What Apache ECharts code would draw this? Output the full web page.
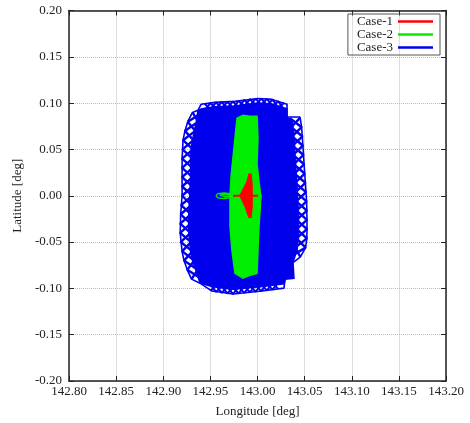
<!DOCTYPE html>
<html><head><meta charset="utf-8">
<script src="https://cdn.jsdelivr.net/npm/echarts@6/dist/echarts.min.js"></script>
<style>html,body{margin:0;padding:0;background:#fff}#c{width:470px;height:423px}</style>
</head><body><div id="c"></div>
<script>
// ---- Data (lon, lat in degrees) ----
const xTicks = [142.80,142.85,142.90,142.95,143.00,143.05,143.10,143.15,143.20];
const yTicks = [-0.20,-0.15,-0.10,-0.05,0.00,0.05,0.10,0.15,0.20];
const seriesNames = ['Case-1','Case-2','Case-3'];

// Case-3: dense core
const case3Core = [[142.9369,0.0923],[142.941,0.094],[142.955,0.096],[142.976,0.097],[143.0005,0.100],[143.0154,0.099],[143.0313,0.094],[143.0313,0.0850],[143.037,0.080],[143.039,0.060],[143.040,0.040],[143.042,0.010],[143.0435,-0.020],[143.0435,-0.045],[143.042,-0.058],[143.0377,-0.0721],[143.0387,-0.0891],[143.0292,-0.0902],[143.0281,-0.0950],[143.0048,-0.098],[142.974,-0.101],[142.9517,-0.098],[142.9390,-0.0944],[142.9345,-0.080],[142.931,-0.070],[142.929,-0.060],[142.927,-0.040],[142.927,-0.020],[142.928,0.000],[142.929,0.020],[142.929,0.040],[142.9295,0.050],[142.931,0.060],[142.933,0.070],[142.935,0.080]];
// Case-3: loops on the west edge
const case3WestA = [[142.931,0.090],[142.937,0.080],[142.923,0.070],[142.932,0.060],[142.9205,0.050],[142.931,0.040],[142.920,0.030],[142.931,0.020],[142.920,0.010],[142.931,0.000],[142.919,-0.010],[142.9295,-0.020],[142.918,-0.030],[142.929,-0.040],[142.9185,-0.050],[142.931,-0.060],[142.922,-0.070],[142.9365,-0.080],[142.930,-0.090]];
const case3WestB = [[142.942,0.090],[142.926,0.080],[142.934,0.070],[142.921,0.060],[142.9315,0.050],[142.920,0.040],[142.931,0.030],[142.920,0.020],[142.931,0.010],[142.920,0.000],[142.930,-0.010],[142.9185,-0.020],[142.929,-0.030],[142.918,-0.040],[142.9295,-0.050],[142.920,-0.060],[142.933,-0.070],[142.9255,-0.080],[142.941,-0.090]];
const case3WestEdge = [[142.9369,0.0923],[142.931,0.090],[142.926,0.080],[142.923,0.070],[142.921,0.060],[142.920,0.040],[142.920,0.000],[142.9185,-0.020],[142.918,-0.040],[142.920,-0.060],[142.922,-0.070],[142.9255,-0.080],[142.930,-0.090],[142.9390,-0.0944]];
// Case-3: loops on the east edge
const case3EastA = [[143.0451,0.084],[143.0358,0.074],[143.0478,0.064],[143.0372,0.054],[143.0488,0.044],[143.0384,0.034],[143.0501,0.024],[143.0398,0.014],[143.0515,0.004],[143.0411,-0.006],[143.0524,-0.016],[143.0415,-0.026],[143.0525,-0.036],[143.0414,-0.046],[143.0510,-0.056],[143.0345,-0.066]];
const case3EastB = [[143.0341,0.084],[143.0468,0.074],[143.0368,0.064],[143.0482,0.054],[143.0378,0.044],[143.0494,0.034],[143.0391,0.024],[143.0508,0.014],[143.0405,0.004],[143.0521,-0.006],[143.0414,-0.016],[143.0525,-0.026],[143.0415,-0.036],[143.0524,-0.046],[143.0400,-0.056],[143.0455,-0.066]];
const case3EastEdge = [[143.0313,0.0850],[143.0451,0.0850],[143.0468,0.074],[143.0482,0.054],[143.0494,0.034],[143.0508,0.014],[143.0521,-0.006],[143.0525,-0.026],[143.0525,-0.036],[143.0524,-0.046],[143.0510,-0.056],[143.0455,-0.066],[143.0377,-0.0721]];
// Case-3: loops on the north and south edges
const case3NorthA = [[142.944,0.0993],[142.950,0.0931],[142.956,0.1009],[142.962,0.0942],[142.968,0.1015],[142.974,0.0948],[142.980,0.1025],[142.986,0.0964],[142.992,0.1042],[142.998,0.0979],[143.004,0.1049],[143.010,0.0975],[143.016,0.1039],[143.022,0.0950],[143.028,0.1000]];
const case3NorthB = [[142.944,0.0923],[142.950,0.1001],[142.956,0.0939],[142.962,0.1012],[142.968,0.0945],[142.974,0.1018],[142.980,0.0955],[142.986,0.1034],[142.992,0.0972],[142.998,0.1049],[143.004,0.0979],[143.010,0.1045],[143.016,0.0969],[143.022,0.1020],[143.028,0.0930]];
const case3NorthEdge = [[142.9369,0.0923],[142.9401,0.0987],[142.9549,0.1008],[142.9761,0.1019],[143.0005,0.1050],[143.0154,0.1040],[143.0313,0.0987],[143.0313,0.0850]];
const case3SouthA = [[142.950,-0.1027],[142.956,-0.0968],[142.962,-0.1048],[142.968,-0.0985],[142.974,-0.1061],[142.980,-0.0985],[142.986,-0.1048],[142.992,-0.0972],[142.998,-0.1036],[143.004,-0.0960],[143.010,-0.1022],[143.016,-0.0944],[143.022,-0.1005]];
const case3SouthB = [[142.950,-0.0957],[142.956,-0.1038],[142.962,-0.0978],[142.968,-0.1055],[142.974,-0.0991],[142.980,-0.1055],[142.986,-0.0978],[142.992,-0.1042],[142.998,-0.0966],[143.004,-0.1030],[143.010,-0.0952],[143.016,-0.1014],[143.022,-0.0935]];
const case3SouthEdge = [[142.9390,-0.0944],[142.9517,-0.1029],[142.9740,-0.1061],[143.0048,-0.1029],[143.0281,-0.0997],[143.0292,-0.0902]];

// Case-2
const case2Core = [[142.9783,0.0838],[142.9846,0.0870],[142.9920,0.0859],[142.9995,0.0859],[143.0005,0.0626],[142.9995,0.0340],[143.0016,0.0149],[143.0037,-0.0011],[143.0016,-0.0329],[143.0005,-0.0594],[142.9995,-0.0838],[142.9920,-0.0859],[142.9846,-0.0891],[142.9761,-0.0838],[142.9729,-0.0594],[142.9708,-0.0329],[142.9708,-0.0011],[142.9719,0.0202],[142.9740,0.0414],[142.9761,0.0626]];
const case2Loop = [[142.9730,0.0],[142.9710,0.0022],[142.9645,0.0030],[142.9580,0.0022],[142.9560,0.0],[142.9580,-0.0022],[142.9645,-0.0030],[142.9710,-0.0022],[142.9730,0.0],[142.9700,0.0012],[142.9645,0.0015],[142.9600,0.0008],[142.9595,0.0],[142.9610,-0.0010],[142.9660,-0.0012],[142.9720,0.0]];

// Case-1
const case1Core = [[142.9910,0.0233],[142.9889,0.0149],[142.9846,0.0064],[142.9814,0.0],[142.9846,-0.0064],[142.9878,-0.0138],[142.9899,-0.0202],[142.9910,-0.0233],[142.9931,-0.0233],[142.9942,-0.0117],[142.9942,0.0],[142.9942,0.0117],[142.9931,0.0233]];
const case1Line = [[142.9740,0.0],[143.0005,0.0]];

const colors = {'Case-1':'#ff0000','Case-2':'#00ee00','Case-3':'#0000ee'};
const serif = '"Liberation Serif","DejaVu Serif",serif';

function polySeries(name, pts){
  return {name, type:'custom', data: pts, z:2,
    renderItem:(params, api)=>{
      if(params.dataIndex!==0) return null;
      return {type:'polygon', shape:{points: pts.map(p=>api.coord(p))},
        style:{fill:colors[name], stroke:colors[name], lineWidth:1.5}};
    }};
}
function lineSeries(name, pts, w){
  return {name, type:'line', data: pts, showSymbol:false, symbol:'none', z:3,
    lineStyle:{color:colors[name], width:w||2.4}, itemStyle:{color:colors[name]}, animation:false};
}

const series = [
  polySeries('Case-3', case3Core),
  lineSeries('Case-3', case3WestA), lineSeries('Case-3', case3WestB),
  lineSeries('Case-3', case3WestEdge, 1.6),
  lineSeries('Case-3', case3EastA), lineSeries('Case-3', case3EastB),
  lineSeries('Case-3', case3EastEdge, 1.6),
  lineSeries('Case-3', case3NorthA, 2), lineSeries('Case-3', case3NorthB, 2),
  lineSeries('Case-3', case3NorthEdge, 1.6),
  lineSeries('Case-3', case3SouthA, 2), lineSeries('Case-3', case3SouthB, 2),
  lineSeries('Case-3', case3SouthEdge, 1.6),
  polySeries('Case-2', case2Core),
  lineSeries('Case-2', case2Loop, 1.3),
  polySeries('Case-1', case1Core),
  lineSeries('Case-1', case1Line, 2)
];

const axisCommon = {
  type:'value', axisLine:{show:true, onZero:false, lineStyle:{color:'#222', width:1.5}},
  axisTick:{show:true, inside:true, length:5, lineStyle:{color:'#222'}},
  splitLine:{show:false}
};
const chart = echarts.init(document.getElementById('c'), null, {renderer:'canvas'});
chart.setOption({
  animation:false,
  backgroundColor:'#fff',
  grid:{left:69, right:24, top:10.5, bottom:36},
  legend:{
    data: seriesNames.map(n=>({name:n, icon:'rect', itemStyle:{color:colors[n]}})),
    orient:'vertical', align:'right', right:30, top:14,
    itemWidth:35, itemHeight:2.5, itemGap:0,
    borderColor:'#555', borderWidth:1, padding:[1,7,1,9],
    textStyle:{fontFamily:serif, fontSize:13, lineHeight:12.5, color:'#222'},
    selectedMode:false
  },
  xAxis:[
    Object.assign({}, axisCommon, {position:'bottom', min:xTicks[0], max:xTicks[xTicks.length-1], interval:0.05,
      name:'Longitude [deg]', nameLocation:'middle', nameGap:24,
      nameTextStyle:{fontFamily:serif, fontSize:13, color:'#222'},
      axisLabel:{fontFamily:serif, fontSize:13, color:'#222', margin:4, formatter:v=>v.toFixed(2)},
      splitLine:{show:true, lineStyle:{type:'dotted', color:'#bbb', width:1}}}),
    Object.assign({}, axisCommon, {position:'top', min:xTicks[0], max:xTicks[xTicks.length-1], interval:0.05, axisLabel:{show:false}})
  ],
  yAxis:[
    Object.assign({}, axisCommon, {position:'left', min:yTicks[0], max:yTicks[yTicks.length-1], interval:0.05,
      name:'Latitude [deg]', nameLocation:'middle', nameGap:40,
      nameTextStyle:{fontFamily:serif, fontSize:13, color:'#222'},
      axisLabel:{fontFamily:serif, fontSize:13, color:'#222', margin:7, formatter:v=>v.toFixed(2)},
      splitLine:{show:true, lineStyle:{type:'dotted', color:'#bbb', width:1}}}),
    Object.assign({}, axisCommon, {position:'right', min:yTicks[0], max:yTicks[yTicks.length-1], interval:0.05, axisLabel:{show:false}})
  ],
  series
});
</script>
</body></html>
